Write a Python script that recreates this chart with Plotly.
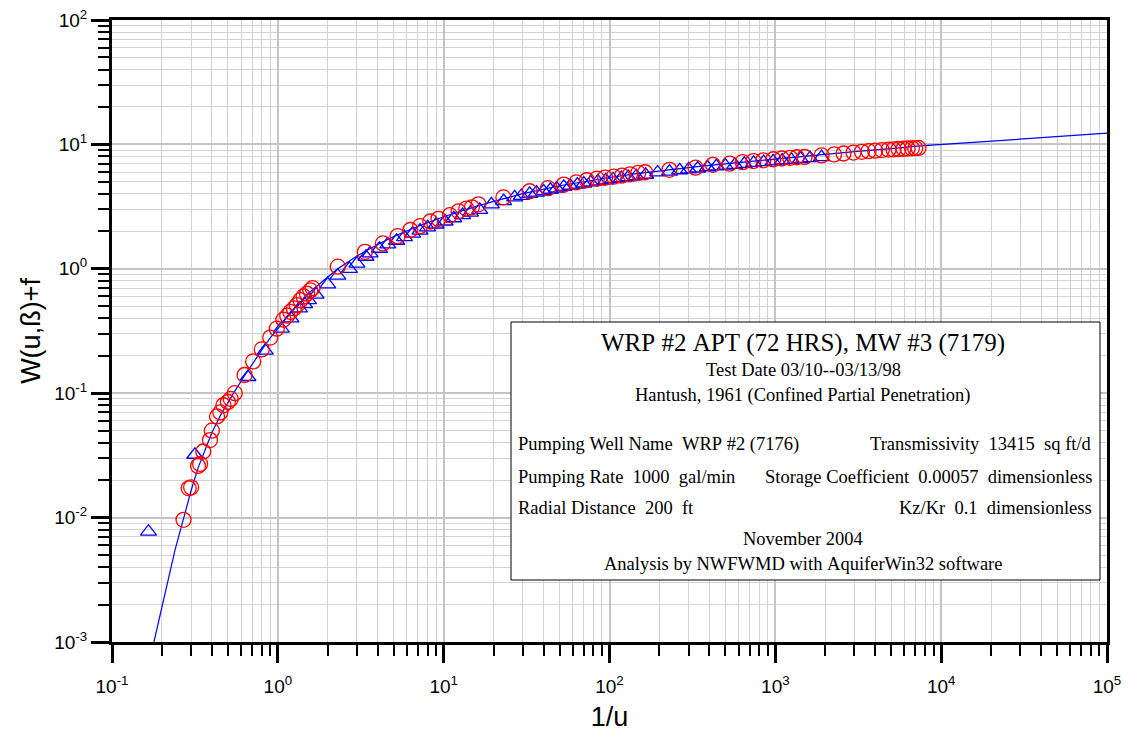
import plotly.graph_objects as go

# ---- type curve ----
curve_x = [0.179, 0.2, 0.24, 0.27, 0.3, 0.33, 0.36, 0.4, 0.45, 0.5, 0.55, 0.63, 0.7, 0.8, 0.9, 1.0,
           1.2, 1.4, 1.6, 2.0, 2.3, 3.0, 4.0, 5.0, 7.0, 10, 15, 20, 30, 50, 70, 100, 150, 200, 350,
           500, 1000, 2000, 3000, 5000, 7500, 100000]
curve_y = [0.001, 0.0019, 0.0055, 0.0098, 0.0165, 0.025, 0.034, 0.048, 0.066, 0.085, 0.104, 0.138,
           0.172, 0.223, 0.278, 0.333, 0.445, 0.56, 0.67, 0.86, 1.0, 1.27, 1.57, 1.82, 2.2, 2.62,
           3.12, 3.48, 4.02, 4.65, 5.03, 5.42, 5.85, 6.13, 6.65, 6.98, 7.65, 8.35, 8.75, 9.25, 9.72, 12.3]

# ---- observation well data (red circles) ----
circ_x = [0.27, 0.29, 0.30, 0.33, 0.34, 0.355, 0.39, 0.40, 0.43, 0.45, 0.47, 0.50, 0.52, 0.55,
          0.63, 0.71, 0.80, 0.90, 0.985, 1.08, 1.14, 1.19, 1.25, 1.30, 1.37, 1.43, 1.50, 1.57, 1.62,
          2.3, 3.35, 4.3, 5.27, 6.3, 7.2, 8.3, 9.3, 10.9, 12.3, 13.7, 14.8, 16.2, 22.9, 33, 42.5,
          53, 63, 73, 84, 94, 106, 119, 133, 149, 164, 230, 330, 420, 530, 635, 738, 847, 973,
          1093, 1228, 1348, 1500, 1900, 2260, 2577, 2960, 3325, 3648, 4000, 4388, 4815, 5160,
          5535, 5933, 6270, 6660, 6975, 7300]
circ_y = [0.0096, 0.0172, 0.0175, 0.026, 0.027, 0.034, 0.042, 0.05, 0.065, 0.07, 0.08, 0.085,
          0.09, 0.10, 0.14, 0.18, 0.225, 0.28, 0.33, 0.39, 0.42, 0.45, 0.48, 0.51, 0.56, 0.60,
          0.63, 0.67, 0.70, 1.04, 1.37, 1.6, 1.83, 2.05, 2.2, 2.4, 2.52, 2.7, 2.9, 3.05, 3.12,
          3.3, 3.75, 4.2, 4.45, 4.75, 4.95, 5.15, 5.3, 5.4, 5.5, 5.62, 5.75, 5.9, 5.97, 6.25,
          6.5, 6.85, 7.0, 7.2, 7.35, 7.45, 7.6, 7.7, 7.8, 7.88, 7.92, 8.15, 8.3, 8.45, 8.6,
          8.72, 8.82, 8.9, 9.0, 9.08, 9.12, 9.18, 9.23, 9.27, 9.3, 9.33, 9.36]

# ---- second data set (blue triangles) ----
tri_x = [0.166, 0.316, 0.66, 0.84, 1.05, 1.2, 1.35, 1.45, 1.53, 1.7, 2.0, 2.3, 2.7, 3.0, 3.4,
         3.6, 4.1, 4.6, 5.2, 5.8, 6.5, 7.2, 8.0, 9.0, 10.2, 11.5, 13, 14.5, 16.5, 19.4, 23, 26.8,
         29.4, 33, 36.3, 40, 44, 48, 53, 58, 64, 70, 77, 85, 95, 105, 118, 130, 145, 165, 195,
         230, 265, 300, 340, 390, 440, 500, 570, 650, 740, 850, 970, 1100, 1250, 1420, 1620, 1900]
tri_y = [0.0077, 0.032, 0.135, 0.22, 0.33, 0.40, 0.48, 0.52, 0.56, 0.62, 0.75, 0.88, 1.0, 1.1,
         1.25, 1.33, 1.45, 1.57, 1.68, 1.8, 1.92, 2.03, 2.15, 2.27, 2.4, 2.55, 2.7, 2.83, 2.98,
         3.3, 3.5, 3.75, 3.85, 4.0, 4.1, 4.2, 4.32, 4.42, 4.55, 4.65, 4.75, 4.85, 4.95, 5.05,
         5.15, 5.25, 5.35, 5.45, 5.55, 5.7, 5.95, 6.05, 6.2, 6.3, 6.4, 6.55, 6.65, 6.75, 6.85,
         6.98, 7.1, 7.2, 7.3, 7.42, 7.52, 7.65, 7.75, 7.9]

x_tickvals = [0.1, 1, 10, 100, 1000, 10000, 100000]
x_ticktext = ["10<sup>-1</sup>", "10<sup>0</sup>", "10<sup>1</sup>", "10<sup>2</sup>",
              "10<sup>3</sup>", "10<sup>4</sup>", "10<sup>5</sup>"]
y_tickvals = [0.001, 0.01, 0.1, 1, 10, 100]
y_ticktext = ["10<sup>-3</sup>", "10<sup>-2</sup>", "10<sup>-1</sup>", "10<sup>0</sup>",
              "10<sup>1</sup>", "10<sup>2</sup>"]

box_title = "WRP #2 APT (72 HRS), MW #3 (7179)"
box_center_lines = ["Test Date 03/10--03/13/98", "Hantush, 1961 (Confined Partial Penetration)"]
box_left = ["Pumping Well Name  WRP #2 (7176)", "Pumping Rate  1000  gal/min", "Radial Distance  200  ft"]
box_right = ["Transmissivity  13415  sq ft/d", "Storage Coefficient  0.00057  dimensionless",
             "Kz/Kr  0.1  dimensionless"]
box_footer = ["November 2004", "Analysis by NWFWMD with AquiferWin32 software"]

fig = go.Figure()
fig.add_trace(go.Scatter(x=curve_x, y=curve_y, mode="lines",
                         line=dict(color="#0000ff", width=1.2), showlegend=False))
fig.add_trace(go.Scatter(x=tri_x, y=tri_y, mode="markers",
                         marker=dict(symbol="triangle-up-open", size=14, color="#0000ff",
                                     line=dict(color="#0000ff", width=1.3)), showlegend=False))
fig.add_trace(go.Scatter(x=circ_x, y=circ_y, mode="markers",
                         marker=dict(symbol="circle-open", size=15, color="#ff0000",
                                     line=dict(color="#ff0000", width=1.3)), showlegend=False))

L, R, T, B = 112, 1107, 20, 642
W, H = R - L, B - T
def px(x):
    return (x - L) / W
def py(y):
    return (B - y) / H

axis_common = dict(
    type="log", showline=True, linecolor="black", linewidth=3, mirror=True,
    ticks="outside", tickcolor="black", tickwidth=3, ticklen=18,
    showgrid=True, gridcolor="#c4c4c4", gridwidth=2, zeroline=False,
    tickmode="array", automargin=False,
    tickfont=dict(family="Liberation Sans, Arial", size=19, color="black"),
    minor=dict(ticks="outside", ticklen=11, tickwidth=1.5, tickcolor="black",
               showgrid=True, gridcolor="#d2d2d2", gridwidth=1, dtick="D1"),
)
fig.update_xaxes(range=[-1, 5], tickvals=x_tickvals, ticktext=x_ticktext, ticklabelstandoff=7,
                 title=dict(text="1/u", font=dict(family="Liberation Sans, Arial", size=27, color="black"),
                            standoff=12), **axis_common)
fig.update_yaxes(range=[-3, 2], tickvals=y_tickvals, ticktext=y_ticktext,
                 title=dict(text="W(u,ß)+f", font=dict(family="Liberation Sans, Arial", size=27, color="black"),
                            standoff=6), **axis_common)

# annotation box
fig.add_shape(type="rect", xref="paper", yref="paper", x0=px(511), x1=px(1100), y0=py(580), y1=py(322),
              line=dict(color="black", width=1), fillcolor="white", layer="above")

serif = "Liberation Serif, Times New Roman"
nb = lambda s: s.replace(" ", "\u00a0")
ann = []
cx = px(803)
ann.append(dict(text=nb(box_title), x=cx, y=py(343), xanchor="center", yanchor="middle",
                font=dict(family=serif, size=25, color="black")))
for s, yy in zip(box_center_lines, [370, 395]):
    ann.append(dict(text=nb(s), x=cx, y=py(yy), xanchor="center", yanchor="middle",
                    font=dict(family=serif, size=18.5, color="black")))
for s, yy in zip(box_left, [444, 477, 508]):
    ann.append(dict(text=nb(s), x=px(516), y=py(yy), xanchor="left", yanchor="middle",
                    font=dict(family=serif, size=18.5, color="black")))
for s, yy in zip(box_right, [444, 477, 508]):
    ann.append(dict(text=nb(s), x=px(1094), y=py(yy), xanchor="right", yanchor="middle",
                    font=dict(family=serif, size=18.5, color="black")))
for s, yy in zip(box_footer, [539, 564]):
    ann.append(dict(text=nb(s), x=cx, y=py(yy), xanchor="center", yanchor="middle",
                    font=dict(family=serif, size=18.5, color="black")))
for a in ann:
    a.update(xref="paper", yref="paper", showarrow=False)
fig.update_layout(annotations=ann)

fig.update_layout(width=1130, height=736, margin=dict(l=L, r=1130 - R, t=T, b=736 - B),
                  plot_bgcolor="white", paper_bgcolor="white", showlegend=False)

fig.write_html("out.html", config={"displayModeBar": False},
               post_script="document.body.style.margin='0px';document.body.style.padding='0px';")
